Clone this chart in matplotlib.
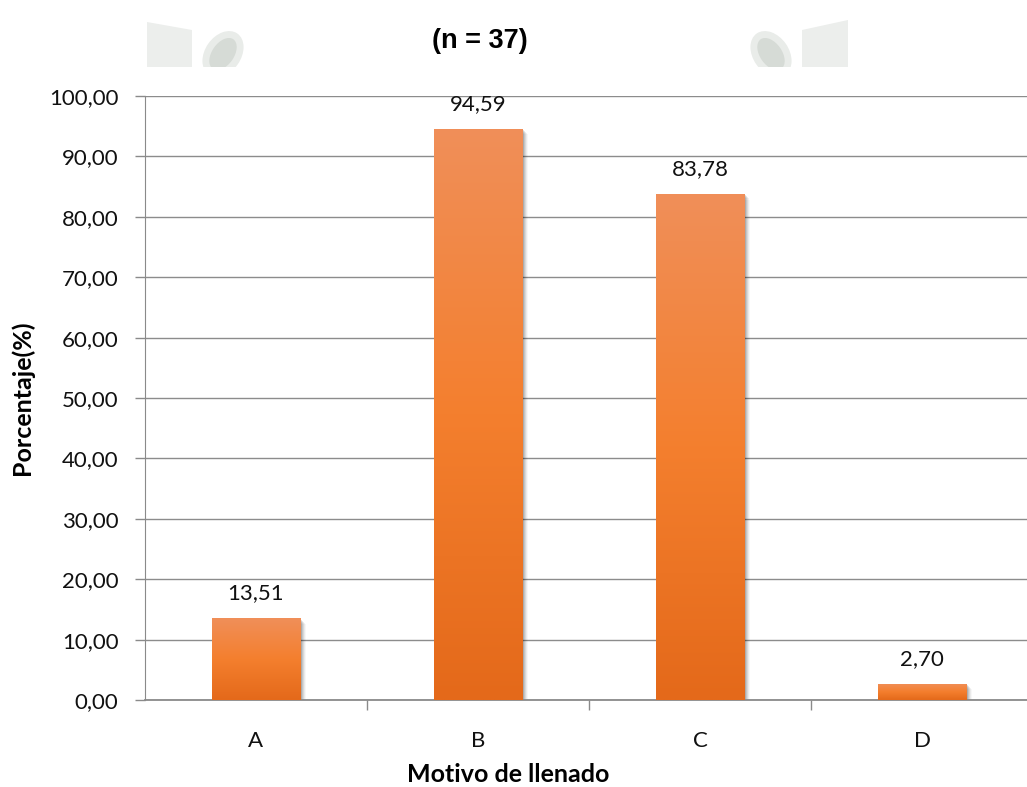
import numpy as np
import matplotlib
matplotlib.use("Agg")
import matplotlib.pyplot as plt
from matplotlib.patches import Polygon, Ellipse
from matplotlib.colors import LinearSegmentedColormap
import matplotlib.transforms as mtransforms

# --- data ---
categories = ["A", "B", "C", "D"]
values = [13.51, 94.59, 83.78, 2.70]
y_ticks = [0, 10, 20, 30, 40, 50, 60, 70, 80, 90, 100]
title_text = "(n = 37)"
x_label = "Motivo de llenado"
y_label = "Porcentaje(%)"

W, H = 1027, 787
fig = plt.figure(figsize=(W / 100, H / 100), dpi=100)
fig.patch.set_facecolor("white")

def fx(px):
    return px / W

def fy(py):
    return 1 - py / H

pix = mtransforms.IdentityTransform()

# faint header ornaments (drawn in pixel space)
def ornament(rect_pts, ell_center, ang):
    poly = Polygon([(x, H - y) for x, y in rect_pts], closed=True,
                   transform=pix, facecolor="#eceeec",
                   edgecolor="none", zorder=0)
    fig.add_artist(poly)
    cx, cy = ell_center
    for w, h, c in [(50, 36, "#e9ece9"), (36, 22, "#d6dbd6")]:
        e = Ellipse((cx, H - cy), w, h, angle=ang, transform=pix,
                    facecolor=c, edgecolor="none", zorder=0)
        fig.add_artist(e)

ornament([(147, 22), (192, 30), (192, 67), (147, 67)], (223, 54), 55)
ornament([(802, 30), (848, 20), (848, 67), (802, 67)], (771, 54), -55)

# white strip hides the lower edge of the ornaments
fig.add_artist(plt.Rectangle((0, 0), 1, fy(67), transform=fig.transFigure,
                             facecolor="white", edgecolor="none", zorder=0.5))

ax = fig.add_axes([fx(145), fy(700), fx(888), (700 - 96) / H])
ax.set_facecolor("none")
ax.set_zorder(1)

x = np.arange(len(categories))
bars = ax.bar(x, values, width=0.40, color="none", edgecolor="none", zorder=3)

cmap = LinearSegmentedColormap.from_list(
    "bar_grad", ["#e4691a", "#f47f2e", "#f08f59"])
grad = np.linspace(0, 1, 256).reshape(-1, 1)

for b in bars:
    x0, w, h = b.get_x(), b.get_width(), b.get_height()
    # soft drop shadow
    for k, a in [(1, 0.12), (2, 0.09), (3, 0.07), (4, 0.05), (5, 0.03)]:
        off = mtransforms.offset_copy(ax.transData, fig=fig, x=k * 0.8,
                                      y=-k * 0.8, units="points")
        sh = plt.Rectangle((x0, 0), w, h, transform=off, facecolor="black",
                           alpha=a, edgecolor="none", zorder=2)
        ax.add_patch(sh)
    base = plt.Rectangle((x0, 0), w, h, facecolor="#f07f30",
                         edgecolor="none", zorder=3)
    ax.add_patch(base)
    im = ax.imshow(grad, cmap=cmap, origin="lower", aspect="auto",
                   extent=[x0, x0 + w, 0, h], zorder=3.5,
                   interpolation="bilinear")
    im.set_clip_path(base)

for xi, v in zip(x, values):
    ax.annotate(f"{v:.2f}".replace(".", ","), (xi, v), xytext=(0, 18),
                textcoords="offset points", ha="center", va="center",
                fontsize=16, family="Lato", color="#111111", zorder=5)

ax.set_xlim(-0.5, len(categories) - 0.5)
ax.set_ylim(0, 100)
ax.set_yticks(y_ticks)
ax.set_yticklabels([f"{t:.2f}".replace(".", ",") for t in y_ticks],
                   fontsize=16, family="Lato", color="#111111")
ax.set_xticks(x)
ax.set_xticklabels(categories, fontsize=16, family="Lato", color="#111111")
ax.set_xticks(np.arange(0.5, len(categories) - 0.5, 1.0), minor=True)

ax.tick_params(axis="y", length=7, width=1, color="#8a8a8a", pad=12)
ax.tick_params(axis="x", which="major", length=0, pad=22)
ax.tick_params(axis="x", which="minor", length=7, width=1, color="#8a8a8a")

ax.grid(axis="y", color="#8c8c8c", linewidth=1, zorder=1)
ax.set_axisbelow(True)
for s in ["top", "right"]:
    ax.spines[s].set_visible(False)
ax.spines["left"].set_color("#8a8a8a")
ax.spines["bottom"].set_color("#8a8a8a")
ax.spines["bottom"].set_linewidth(1.3)

ax.set_xlabel(x_label, fontsize=18, family="Lato", fontweight="bold")
ax.xaxis.label.set_va("center")
ax.xaxis.set_label_coords((508 - 145) / 888, (700 - 775) / 604)
ax.set_ylabel(y_label, fontsize=18, family="Lato", fontweight="bold")
ax.yaxis.label.set_va("center")
ax.yaxis.set_label_coords((22 - 145) / 888, 0.5)

fig.text(fx(480), fy(41), title_text, ha="center", va="center",
         fontsize=19.5, fontweight="bold", family="Liberation Sans")

fig.savefig("out.png", dpi=100)
